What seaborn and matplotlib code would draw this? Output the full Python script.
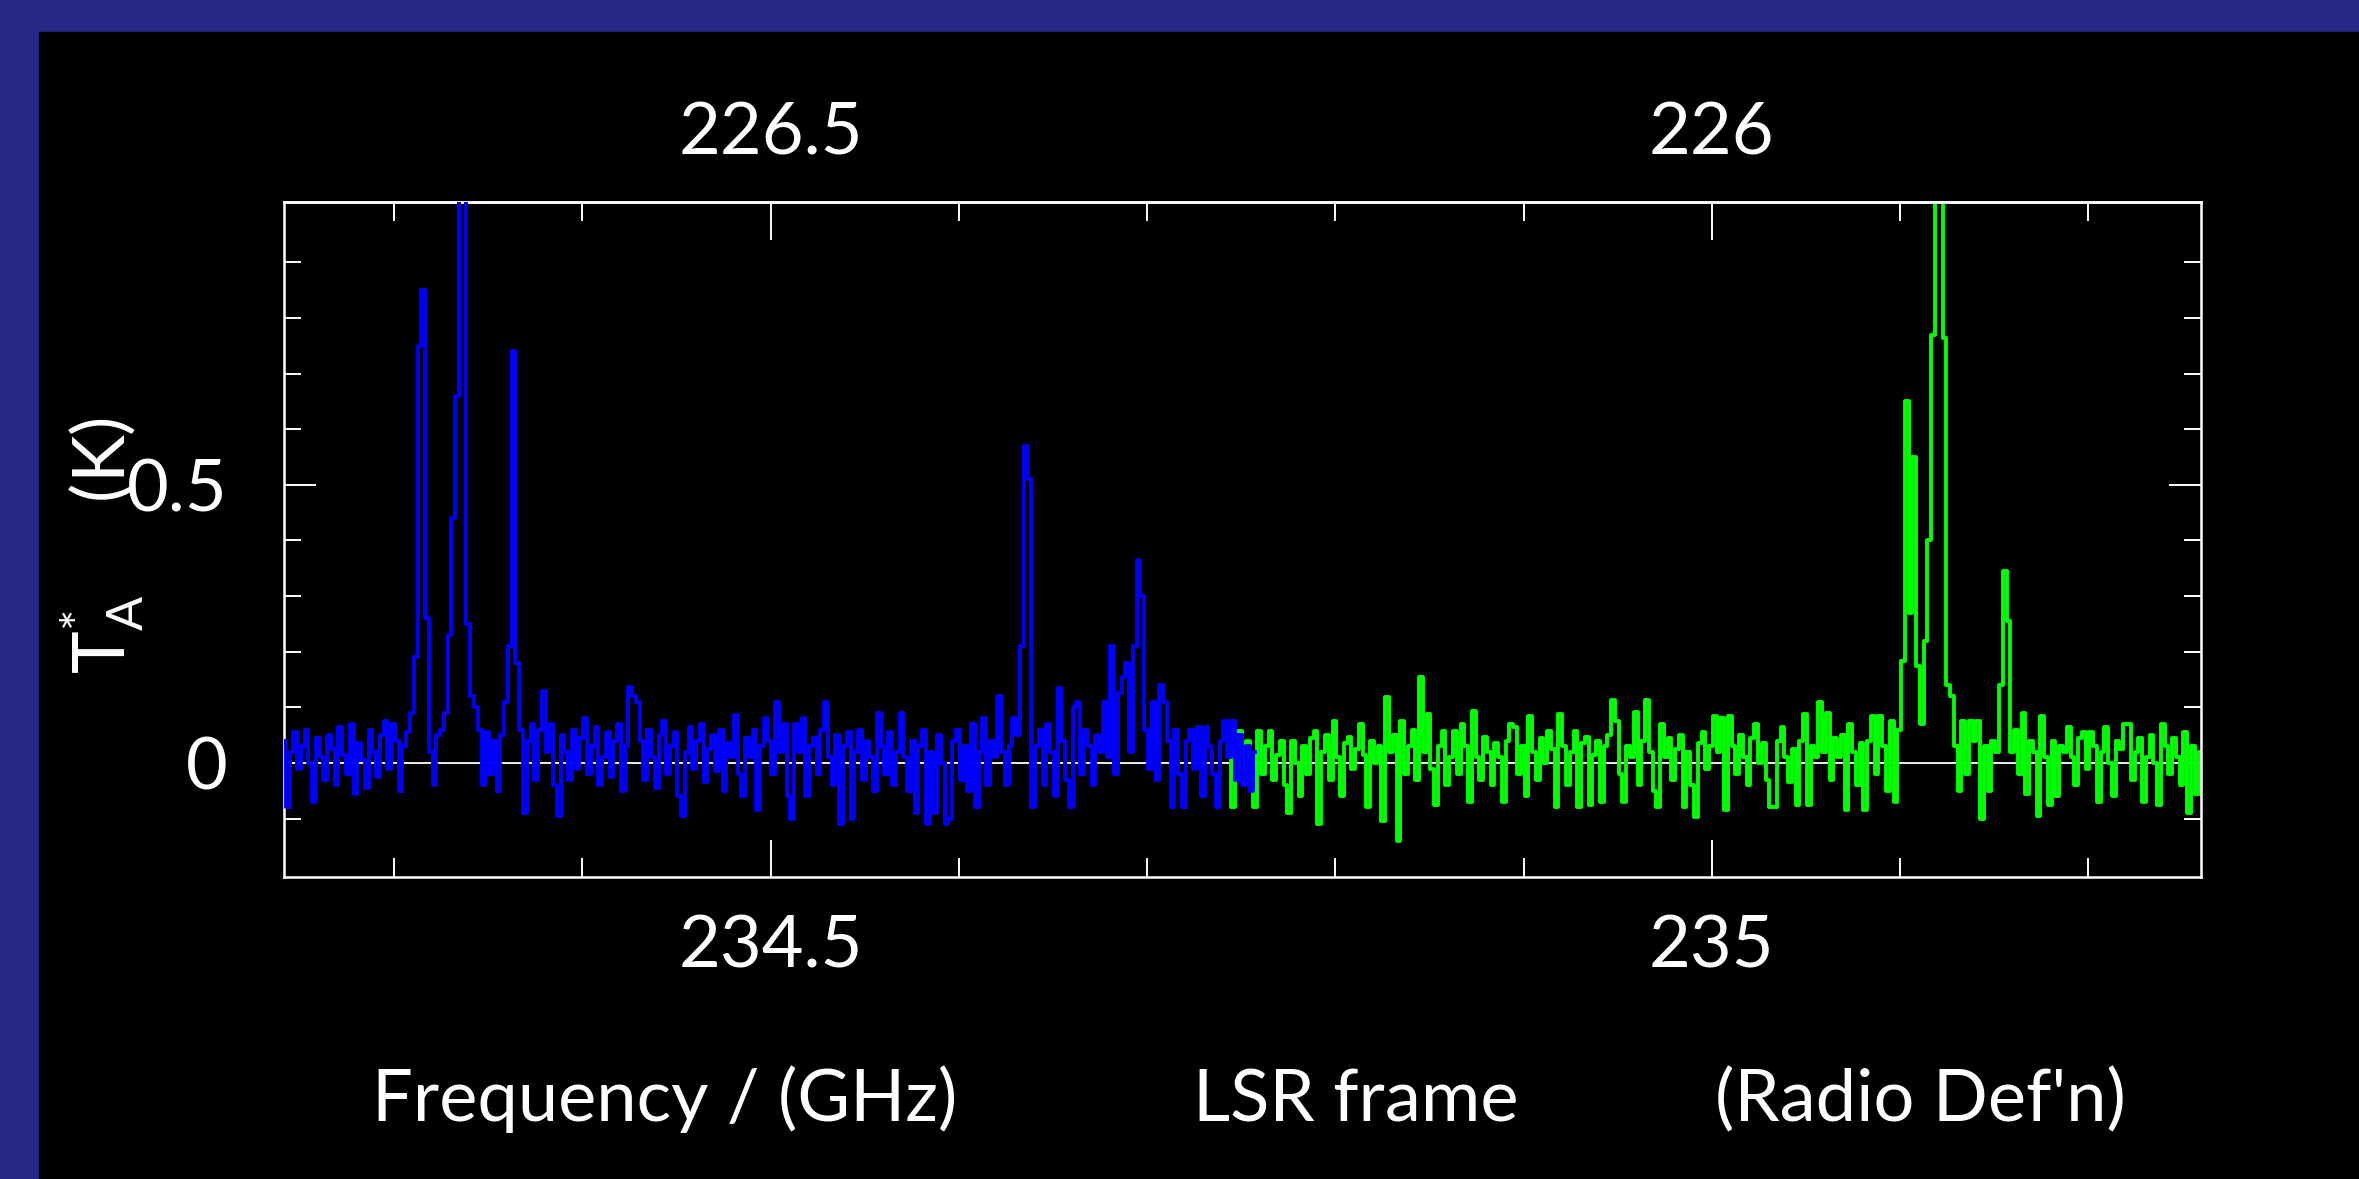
import numpy as np
import matplotlib
matplotlib.use("Agg")
import matplotlib.pyplot as plt
from matplotlib.patches import Rectangle
import seaborn as sns

# channel grids of the two spectrometer chunks (GHz, LSR radio frequency)
blue_start = 234.2415
green_start = 234.7435
chan_width = 0.002

# antenna temperature per channel, in mK
blue_mk = [
    40, -80, 20, 55, -10, 30, 60, 0, -70, 45,
    10, -30, 50, 25, -40, 65, 15, -20, 70, -55,
    35, 5, -45, 60, 20, -25, 50, 75, -10, 70,
    40, -50, 30, 55,
    90, 190, 750, 850, 260, 20, -40, 50, 60, 90,
    230, 440, 660, 1400, 1200, 250, 120, 100,
    60, -40, 55, -20, 40, -50,
    50, 110, 210, 740, 180, 60,
    -90, 40, 70, -30, 60, 130, 20, 70, -40, -95,
    50, 20, -30, 60, -10, 45, 80, -20, 30, 65, -40, 10, 55, -25, 40, 70, -50, 30,
    136, 120, 110, 40, -30, 60, 10, -45, 50,
    75, -20, 30, 55, -60, -95, 20, 65, -10, 40, 70, -35, 25, 50, -15, 60, -50, 35, 10,
    86, -20, -60, 45, 10, 60, -85, 30,
    80, 40, -20, 110, 20, 70, -60, -100, 70, 20, 80, -60, 30,
    45, -20, 60, 110, 10, -40, 50, -110, 30, 55,
    -100, 20, 60, -30, 40, 10, -50, 90, 30, -20,
    55, -40, 20, 90, 10, -50, 40, -90, 30, 60,
    -110, 20, -90, 50, 0, -110, -100, 40, 60, -30,
    30, -50, 70, -80, 20, 80, -40, 40, 10,
    120, 20, -40, 30, 80, 50, 210, 570, 510, -80, 30,
    60, -40, 70, 20, -60, 135, 40, -30, -80, 100, 110, -20, 60, 30, -40, 50, 20,
    110, 10, 210, -20, 125, 155, 180, 20, 210, 365, 300, 60, -10, 110, -30, 140, 110, 40,
    -80, 60, -20, -80, 40, 60, -10, 65, -60, 65, 30, -20, -80, 40, 75, 10, 75, -30,
    50, -40, 30, -50, 20,
]

green_mk = [
    20, -80, 30, 58, -10, 40, 10, -80, 58, -20,
    30, 58, -30, 15, 40, -40, -90, 40, 0, -60,
    30, -20, 45, 58, -110, 20, 50, -30, 76, 10,
    -60, 35, 46, -10, 25, 70, 15, -80, 40, 0,
    30, -104, 118, 20, 50, -140, 76, -20, 30, 60,
    -30, 154, 20, 88, -10, -75, 30, 58, -40, 10,
    58, -20, 70, 30, -70, 94, 10, -30, 46, 20,
    -40, 35, 10, -70, 40, 70, 65, -20, 30, -60,
    85, 20, -30, 45, 0, 58, 25, -80, 88, 30,
    -40, 20, 58, -80, 35, 46, -75, 15, 40, -70,
    30, 50, 113, 76, -20, -70, 30, 10, 92, -40,
    40, 113, 20, -50, -80, 70, 10, 45, -30, 25,
    50, -80, 20, -40, -97, 35, 55, -10, 30, 85,
    20, 80, -85, 85, 30, -20, 50, 10, -40, 45,
    70, 0, 35, -30, -80, -80, 40, 65, 10, -35,
    25, -75, 40, 88, -75, 30, 10, 110, 20, 90,
    -30, 45, 10, 50, -85, 70, 20, -40, 35, -85,
    40, 85, -20, 85, 30, -50, 76, -70,
    60, 183, 650, 270, 550, 175, 70, 220, 400, 770, 1500, 1500, 764, 140, 120, 30,
    -50, 76, -20, 76, 40, 76, -100, 30, -50, 40, 20, 140, 345, 255, 20, 60,
    -20, 90, -55, 40, 20, -95, 85, 10, -75, 40,
    -60, 30, 20, 65, 10, -40, 45, 55, -10, 55,
    30, -70, 20, 64, 0, -60, 40, 25, 70, 70,
    -30, 20, 45, -70, 10, 50, 0, -75, 70, 30,
    -20, 45, 10, -40, 55, -90, 30, -55, 20,
]

x_range = (234.2413, 235.2598)
y_range = (-0.205, 1.009)
x_major = [234.5, 235.0]
x_major_labels = ["234.5", "235"]
x_minor = [234.3, 234.4, 234.6, 234.7, 234.8, 234.9, 235.1, 235.2]
image_sum = 461.0  # image sideband frequency = 461 - signal frequency
top_major = [226.5, 226.0]
top_major_labels = ["226.5", "226"]
top_minor = [226.7, 226.6, 226.4, 226.3, 226.2, 226.1, 225.9, 225.8]
y_major = [0.0, 0.5]
y_major_labels = ["0", "0.5"]
y_minor = [-0.1, 0.1, 0.2, 0.3, 0.4, 0.6, 0.7, 0.8, 0.9]

navy = "#262888"
fs = 52

plt.rcParams["font.family"] = ["Lato", "DejaVu Sans"]
plt.rcParams["font.weight"] = "normal"
plt.rcParams["mathtext.fontset"] = "custom"
plt.rcParams["mathtext.rm"] = "Lato"
plt.rcParams["mathtext.it"] = "Lato"

W, H = 2359, 1179
fig = plt.figure(figsize=(W / 100, H / 100), dpi=100, facecolor=navy)
fig.add_artist(Rectangle((39 / W, 0), 1 - 39 / W, 1 - 32 / H,
                         transform=fig.transFigure, color="black", zorder=-5))

ax = fig.add_axes([283.5 / W, 1 - 877 / H, (2201 - 283.5) / W, (877 - 201.6) / H],
                  facecolor="black")

blue_freq = blue_start + chan_width * np.arange(len(blue_mk))
green_freq = green_start + chan_width * np.arange(len(green_mk))

ax.axhline(0, color="white", lw=1.3, zorder=1)
sns.lineplot(x=green_freq, y=np.array(green_mk) / 1000.0, color="#00ff00", lw=2.8,
             drawstyle="steps-mid", estimator=None, sort=False, errorbar=None,
             ax=ax, zorder=2)
sns.lineplot(x=blue_freq, y=np.array(blue_mk) / 1000.0, color="#0000ff", lw=2.8,
             drawstyle="steps-mid", estimator=None, sort=False, errorbar=None,
             ax=ax, zorder=3)

ax.set_xlim(*x_range)
ax.set_ylim(*y_range)
ax.set_xlabel("")
ax.set_ylabel("")

for s in ax.spines.values():
    s.set_color("white")
    s.set_linewidth(1.8)

ax.set_xticks(x_major, labels=x_major_labels)
ax.set_xticks(x_minor, minor=True)
ax.set_yticks(y_major, labels=y_major_labels)
ax.set_yticks(y_minor, minor=True)
ax.tick_params(axis="x", which="major", direction="in", length=27, width=1.4,
               color="white", labelcolor="white", labelsize=fs, pad=27,
               top=False, bottom=True)
ax.tick_params(axis="x", which="minor", direction="in", length=14, width=1.4,
               color="white", top=False, bottom=True)
ax.tick_params(axis="y", which="major", direction="in", length=23, width=1.4,
               color="white", labelcolor="white", labelsize=fs, pad=40,
               left=True, right=True)
ax.tick_params(axis="y", which="minor", direction="in", length=12, width=1.4,
               color="white", left=True, right=True)

sec = ax.secondary_xaxis("top", functions=(lambda f: image_sum - f,
                                           lambda f: image_sum - f))
sec.set_xticks(top_major, labels=top_major_labels)
sec.set_xticks(top_minor, minor=True)
sec.tick_params(axis="x", which="major", direction="in", length=27, width=1.4,
                color="white", labelcolor="white", labelsize=fs, pad=25)
sec.tick_params(axis="x", which="minor", direction="in", length=14, width=1.4,
                color="white")
sec.spines["top"].set_color("white")
sec.spines["top"].set_linewidth(1.8)

# axis titles, placed like the original plot package does
fig.text(126 / W, 1 - 674 / H, r"T$_{\mathrm{A}}^{*}$     (K)", color="white",
         fontsize=fs, rotation=90, rotation_mode="anchor", ha="left", va="baseline")
label_y = 1 - 1121 / H
fig.text(665 / W, label_y, "Frequency / (GHz)", color="white", fontsize=fs,
         ha="center", va="baseline")
fig.text(1356 / W, label_y, "LSR frame", color="white", fontsize=fs,
         ha="center", va="baseline")
fig.text(1920 / W, label_y, "(Radio Def'n)", color="white", fontsize=fs,
         ha="center", va="baseline")

fig.savefig("out.png", dpi=100, facecolor=navy)
